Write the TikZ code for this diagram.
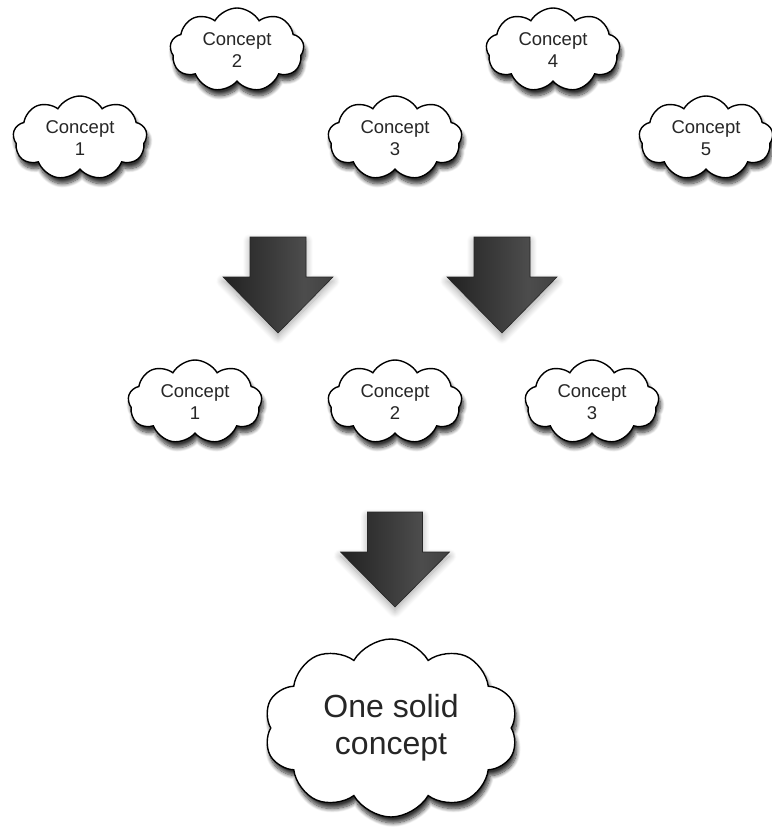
\documentclass[tikz,border=0pt]{standalone}
\usepackage{fontspec}
\setmainfont{Liberation Sans}
\usetikzlibrary{shapes.symbols,shadows.blur}

% dark metallic shading for the big block arrows
\pgfdeclarehorizontalshading{arrowmetal}{100bp}{
  color(0bp)=(black!95);
  color(22bp)=(black!88);
  color(45bp)=(black!78);
  color(62bp)=(black!70);
  color(80bp)=(black!76);
  color(100bp)=(black!82)}

\tikzset{
  idea/.style={cloud, cloud puffs=9, cloud puff arc=120, aspect=1.5,
    draw=black, line width=1.4pt, fill=white, inner sep=0pt,
    minimum width=134pt, minimum height=84pt, align=center,
    text=black!85, font=\fontsize{18.5}{22}\selectfont,
    blur shadow={shadow xshift=2pt, shadow yshift=-6pt,
      shadow blur radius=4pt, shadow blur steps=10, shadow opacity=80}},
  bigidea/.style={idea, minimum width=254pt, minimum height=178pt,
    cloud puffs=10, font=\fontsize{32}{37}\selectfont},
  blockarrow/.style={shading=arrowmetal, draw=black!85, line width=0.6pt,
    line join=miter,
    blur shadow={shadow xshift=0pt, shadow yshift=-4pt,
      shadow blur radius=7pt, shadow blur steps=12, shadow opacity=35}}
}

% downward block arrow: centre x, shaft top, head top, tip, shaft half width, head half width
\newcommand{\downarrowat}[6]{%
  \path[blockarrow] (#1-#5,#2) -- (#1+#5,#2) -- (#1+#5,#3) -- (#1+#6,#3)
    -- (#1,#4) -- (#1-#6,#3) -- (#1-#5,#3) -- cycle;}

\begin{document}
\begin{tikzpicture}[x=1pt,y=-1pt]
  \useasboundingbox (0,0) rectangle (772,831);

  % first row of concepts
  \node[idea] (a1) at (80,138)  {Concept\\1};
  \node[idea] (a2) at (237,50)  {Concept\\2};
  \node[idea] (a3) at (395,138) {Concept\\3};
  \node[idea] (a4) at (553,50)  {Concept\\4};
  \node[idea] (a5) at (706,138) {Concept\\5};

  % first narrowing step
  \downarrowat{278}{237}{277}{333}{28}{55}
  \downarrowat{502}{237}{277}{333}{28}{55}

  % second row of concepts
  \node[idea] (b1) at (195,402) {Concept\\1};
  \node[idea] (b2) at (395,402) {Concept\\2};
  \node[idea] (b3) at (592,402) {Concept\\3};

  % second narrowing step
  \downarrowat{395}{512}{552}{607}{27.5}{54.5}

  % final result
  \node[bigidea] (c) at (391,728) {One solid\\concept};
\end{tikzpicture}
\end{document}
